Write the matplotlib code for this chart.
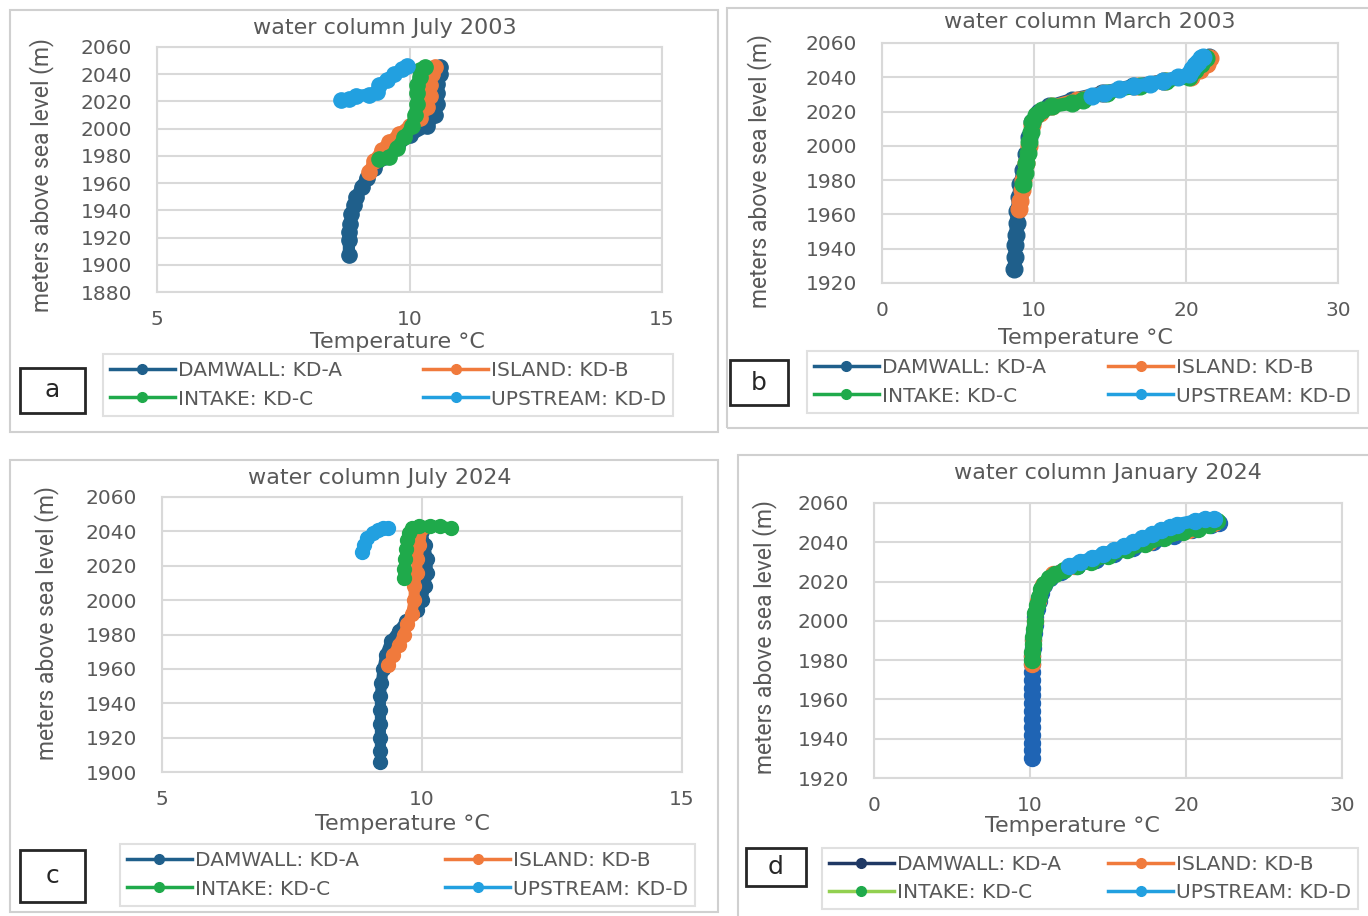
import matplotlib
matplotlib.use('Agg')
import matplotlib.pyplot as plt
from matplotlib.lines import Line2D
from matplotlib.patches import Rectangle

W, H = 1368, 916
GREY = '#595959'
GRID = '#d9d9d9'

labels = ['DAMWALL: KD-A', 'ISLAND: KD-B', 'INTAKE: KD-C', 'UPSTREAM: KD-D']

# colours
c_dam = '#1f5f8b'
c_isl = '#f07a3c'
c_int = '#1faa4b'
c_up = '#22a0e0'
c_dam_d = '#1f64b4'
c_dam_d_leg = '#1f3864'
c_int_d_line = '#92d050'

# ---- a : water column July 2003 (temperature degC, elevation m)
a_dam_t = [8.8, 8.8, 8.8, 8.82, 8.85, 8.9, 8.95, 9.05, 9.15, 9.3, 9.5, 9.75, 10.0, 10.35, 10.5, 10.55, 10.55, 10.55, 10.6, 10.6]
a_dam_z = [1907, 1918, 1924, 1930, 1937, 1944, 1950, 1957, 1964, 1971, 1979, 1987, 1995, 2002, 2010, 2018, 2026, 2033, 2040, 2045]
a_isl_t = [9.2, 9.3, 9.45, 9.6, 9.8, 10.0, 10.2, 10.35, 10.4, 10.4, 10.45, 10.5]
a_isl_z = [1968, 1976, 1984, 1990, 1996, 2002, 2008, 2016, 2024, 2032, 2040, 2045]
a_int_t = [9.4, 9.6, 9.75, 9.9, 10.05, 10.1, 10.15, 10.15, 10.15, 10.2, 10.2, 10.3]
a_int_z = [1978, 1979, 1986, 1994, 2002, 2010, 2018, 2026, 2032, 2038, 2043, 2045]
a_up_t = [8.65, 8.8, 8.95, 9.2, 9.35, 9.4, 9.55, 9.7, 9.85, 9.95]
a_up_z = [2021, 2022, 2024, 2025, 2027, 2032, 2036, 2040, 2044, 2046]

# ---- b : water column March 2003
b_dam_t = [8.7, 8.75, 8.75, 8.8, 8.85, 8.9, 9.0, 9.1, 9.3, 9.5, 9.7, 9.9, 10.3, 11.0, 12.5, 14.5, 16.5, 18.5, 20.2, 20.8, 21.3, 21.5]
b_dam_z = [1928, 1935, 1942, 1948, 1955, 1962, 1970, 1978, 1986, 1995, 2005, 2014, 2020, 2023, 2027, 2031, 2035, 2038, 2041, 2045, 2049, 2052]
b_isl_t = [9.0, 9.1, 9.2, 9.3, 9.5, 9.7, 9.9, 10.4, 11.2, 12.8, 14.6, 16.8, 18.6, 20.3, 20.9, 21.4, 21.6]
b_isl_z = [1963, 1968, 1974, 1980, 1990, 2000, 2012, 2019, 2023, 2027, 2031, 2035, 2038, 2040, 2044, 2048, 2051]
b_int_t = [9.3, 9.4, 9.5, 9.6, 9.7, 9.8, 9.9, 10.1, 10.5, 11.2, 12.5, 13.2, 14.8, 17.0, 18.7, 20.2, 20.6, 21.0, 21.3]
b_int_z = [1978, 1984, 1990, 1996, 2002, 2008, 2014, 2018, 2021, 2023, 2025, 2027, 2031, 2035, 2038, 2040, 2044, 2048, 2051]
b_up_t = [13.8, 14.6, 15.6, 16.6, 17.6, 18.5, 19.5, 20.2, 20.4, 20.6, 20.8, 21.0, 21.1]
b_up_z = [2029, 2031, 2033, 2035, 2036, 2038, 2040, 2042, 2045, 2047, 2049, 2051, 2052]

# ---- c : water column July 2024
c_dam_t = [9.2, 9.2, 9.2, 9.2, 9.2, 9.2, 9.22, 9.25, 9.3, 9.4, 9.55, 9.7, 9.9, 10.0, 10.05, 10.1, 10.1, 10.05, 10.0]
c_dam_z = [1906, 1912, 1920, 1928, 1936, 1944, 1952, 1960, 1968, 1976, 1982, 1988, 1994, 2000, 2008, 2016, 2024, 2032, 2040]
c_isl_t = [9.35, 9.45, 9.55, 9.65, 9.72, 9.8, 9.85, 9.85, 9.9, 9.9, 9.95, 10.0]
c_isl_z = [1962, 1968, 1974, 1980, 1986, 1992, 2000, 2008, 2016, 2024, 2032, 2042]
c_int_t = [9.65, 9.65, 9.68, 9.7, 9.72, 9.75, 9.8, 9.95, 10.15, 10.35, 10.55]
c_int_z = [2013, 2018, 2024, 2030, 2035, 2039, 2042, 2043, 2043, 2043, 2042]
c_up_t = [8.85, 8.88, 8.95, 9.05, 9.15, 9.25, 9.35]
c_up_z = [2028, 2032, 2036, 2039, 2041, 2042, 2042]

# ---- d : water column January 2024
d_dam_t = [10.1, 10.1, 10.1, 10.1, 10.1, 10.1, 10.1, 10.1, 10.1, 10.1, 10.1, 10.12, 10.15, 10.15, 10.18, 10.2, 10.25, 10.3, 10.35,
           10.45, 10.55, 10.7, 10.9, 11.3, 12.0, 13.0, 14.2, 15.4, 16.6, 17.9, 19.2, 20.4, 21.6, 22.1]
d_dam_z = [1930, 1934, 1938, 1942, 1946, 1950, 1954, 1958, 1962, 1966, 1970, 1974, 1978, 1982, 1986, 1990, 1994, 1998, 2002,
           2006, 2010, 2014, 2018, 2022, 2025, 2028, 2031, 2034, 2037, 2040, 2043, 2046, 2049, 2050]
d_isl_t = [10.15, 10.15, 10.2, 10.3, 10.5, 10.85, 11.5, 12.8, 15.0, 17.6, 20.2, 21.8]
d_isl_z = [1978, 1982, 1990, 2000, 2010, 2018, 2024, 2028, 2034, 2040, 2046, 2050]
d_int_t = [10.15, 10.15, 10.2, 10.2, 10.25, 10.3, 10.35, 10.45, 10.55, 10.7, 10.9, 11.2, 11.6, 12.2, 13.0, 13.9, 15.0, 16.2,
           17.4, 18.6, 19.8, 20.8, 21.5, 22.0]
d_int_z = [1980, 1984, 1988, 1992, 1996, 2000, 2004, 2008, 2012, 2016, 2019, 2022, 2024, 2026, 2028, 2030, 2033, 2036,
           2039, 2042, 2045, 2047, 2049, 2051]
d_up_t = [12.5, 13.2, 14.0, 14.7, 15.4, 16.0, 16.6, 17.2, 17.8, 18.4, 19.0, 19.4, 20.6, 21.2, 21.8]
d_up_z = [2028, 2030, 2032, 2034, 2036, 2038, 2040, 2042, 2044, 2046, 2048, 2049, 2051, 2052, 2052]


def rect(l, t, r, b):
    return [l / W, 1 - b / H, (r - l) / W, (b - t) / H]


def fx(x):
    return x / W


def fy(y):
    return 1 - y / H


fig = plt.figure(figsize=(W / 100, H / 100), dpi=100)
fig.patch.set_facecolor('white')


def panel(frame, axbox, title, title_xy, ylab_xy, xlab_xy, xlim, xticks, ylim, yticks,
          series, handles, legbox, labbox, letter, ms):
    # outer frame of the panel
    l, t, r, b = frame
    fig.add_artist(Rectangle((fx(l), fy(b)), (r - l) / W, (b - t) / H, transform=fig.transFigure,
                             fill=False, edgecolor='#d0d0d0', lw=1.5))
    ax = fig.add_axes(rect(*axbox))
    for tt, zz, lc, mc in series:
        # dense sampling in the original -> markers merge into a band
        ax.plot(tt, zz, color=mc, lw=ms * 0.8, solid_capstyle='round', solid_joinstyle='round',
                marker='o', ms=ms, mfc=mc, mec=mc, clip_on=False)
    ax.set_xlim(*xlim)
    ax.set_ylim(*ylim)
    ax.set_xticks(xticks)
    ax.set_yticks(yticks)
    ax.grid(True, color=GRID, lw=1.5)
    ax.set_axisbelow(True)
    for s in ax.spines.values():
        s.set_color(GRID)
        s.set_linewidth(1.5)
    ax.tick_params(axis='y', length=0, pad=18, labelsize=14.5, labelcolor=GREY)
    ax.tick_params(axis='x', length=0, pad=13, labelsize=14.5, labelcolor=GREY)
    fig.text(fx(title_xy[0]), fy(title_xy[1]), title, ha='center', va='center', fontsize=16, color=GREY)
    fig.text(fx(ylab_xy[0]), fy(ylab_xy[1]), 'meters above sea level (m)', rotation=90,
             ha='center', va='center', fontsize=16.5, color=GREY, family='Roboto')
    fig.text(fx(xlab_xy[0]), fy(xlab_xy[1]), 'Temperature \u00b0C', ha='center', va='center',
             fontsize=16, color=GREY)
    # legend rows: DAMWALL / ISLAND, INTAKE / UPSTREAM (matplotlib fills by column)
    order = [0, 2, 1, 3]
    l, t, r, b = legbox
    leg = ax.legend([handles[i] for i in order], [labels[i] for i in order], ncol=2, loc='center',
                    mode='expand', bbox_to_anchor=(fx(l), fy(b), (r - l) / W, (b - t) / H),
                    bbox_transform=fig.transFigure, fontsize=14.5, handlelength=3.2,
                    handletextpad=0.15, labelspacing=0.45, borderpad=0.35,
                    frameon=True, fancybox=False, edgecolor=GRID, labelcolor=GREY)
    leg.get_frame().set_linewidth(1.5)
    l, t, r, b = labbox
    fig.add_artist(Rectangle((fx(l), fy(b)), (r - l) / W, (b - t) / H, transform=fig.transFigure,
                             facecolor='white', edgecolor='#262626', lw=2))
    fig.text(fx((l + r) / 2), fy((t + b) / 2), letter, ha='center', va='center', fontsize=18, color='#262626')
    return ax


def handles_for(cols):
    return [Line2D([], [], color=lc, lw=2.5, marker='o', ms=7, mfc=mc, mec=mc) for lc, mc in cols]


std = [(c_dam, c_dam), (c_isl, c_isl), (c_int, c_int), (c_up, c_up)]

panel((10, 10, 718, 432), (157, 47, 662, 292), 'water column July 2003', (385, 28), (42, 175), (397, 342),
      (5, 15), [5, 10, 15], (1880, 2060), list(range(1880, 2061, 20)),
      [(a_dam_t, a_dam_z, c_dam, c_dam), (a_isl_t, a_isl_z, c_isl, c_isl),
       (a_int_t, a_int_z, c_int, c_int), (a_up_t, a_up_z, c_up, c_up)],
      handles_for(std), (93, 355, 683, 415), (20, 368, 85, 413), 'a', 11)

panel((727, 8, 1375, 428), (882, 43, 1338, 283), 'water column March 2003', (1090, 22), (760, 171), (1085, 338),
      (0, 30), [0, 10, 20, 30], (1920, 2060), list(range(1920, 2061, 20)),
      [(b_dam_t, b_dam_z, c_dam, c_dam), (b_isl_t, b_isl_z, c_isl, c_isl),
       (b_int_t, b_int_z, c_int, c_int), (b_up_t, b_up_z, c_up, c_up)],
      handles_for(std), (797, 352, 1368, 412), (730, 360, 788, 405), 'b', 12)

panel((10, 460, 718, 912), (162, 497, 682, 772), 'water column July 2024', (380, 478), (47, 623), (402, 824),
      (5, 15), [5, 10, 15], (1900, 2060), list(range(1900, 2061, 20)),
      [(c_dam_t, c_dam_z, c_dam, c_dam), (c_isl_t, c_isl_z, c_isl, c_isl),
       (c_int_t, c_int_z, c_int, c_int), (c_up_t, c_up_z, c_up, c_up)],
      handles_for(std), (110, 845, 705, 905), (20, 850, 85, 902), 'c', 10)

panel((738, 455, 1375, 925), (874, 503, 1342, 778), 'water column January 2024', (1108, 473), (765, 637), (1072, 826),
      (0, 30), [0, 10, 20, 30], (1920, 2060), list(range(1920, 2061, 20)),
      [(d_dam_t, d_dam_z, c_dam_d, c_dam_d), (d_isl_t, d_isl_z, c_isl, c_isl),
       (d_int_t, d_int_z, c_int_d_line, c_int), (d_up_t, d_up_z, c_up, c_up)],
      handles_for([(c_dam_d_leg, c_dam_d_leg), (c_isl, c_isl), (c_int_d_line, c_int), (c_up, c_up)]),
      (812, 845, 1368, 912), (746, 848, 806, 886), 'd', 11.5)

fig.savefig('out.png', dpi=100, facecolor='white')
